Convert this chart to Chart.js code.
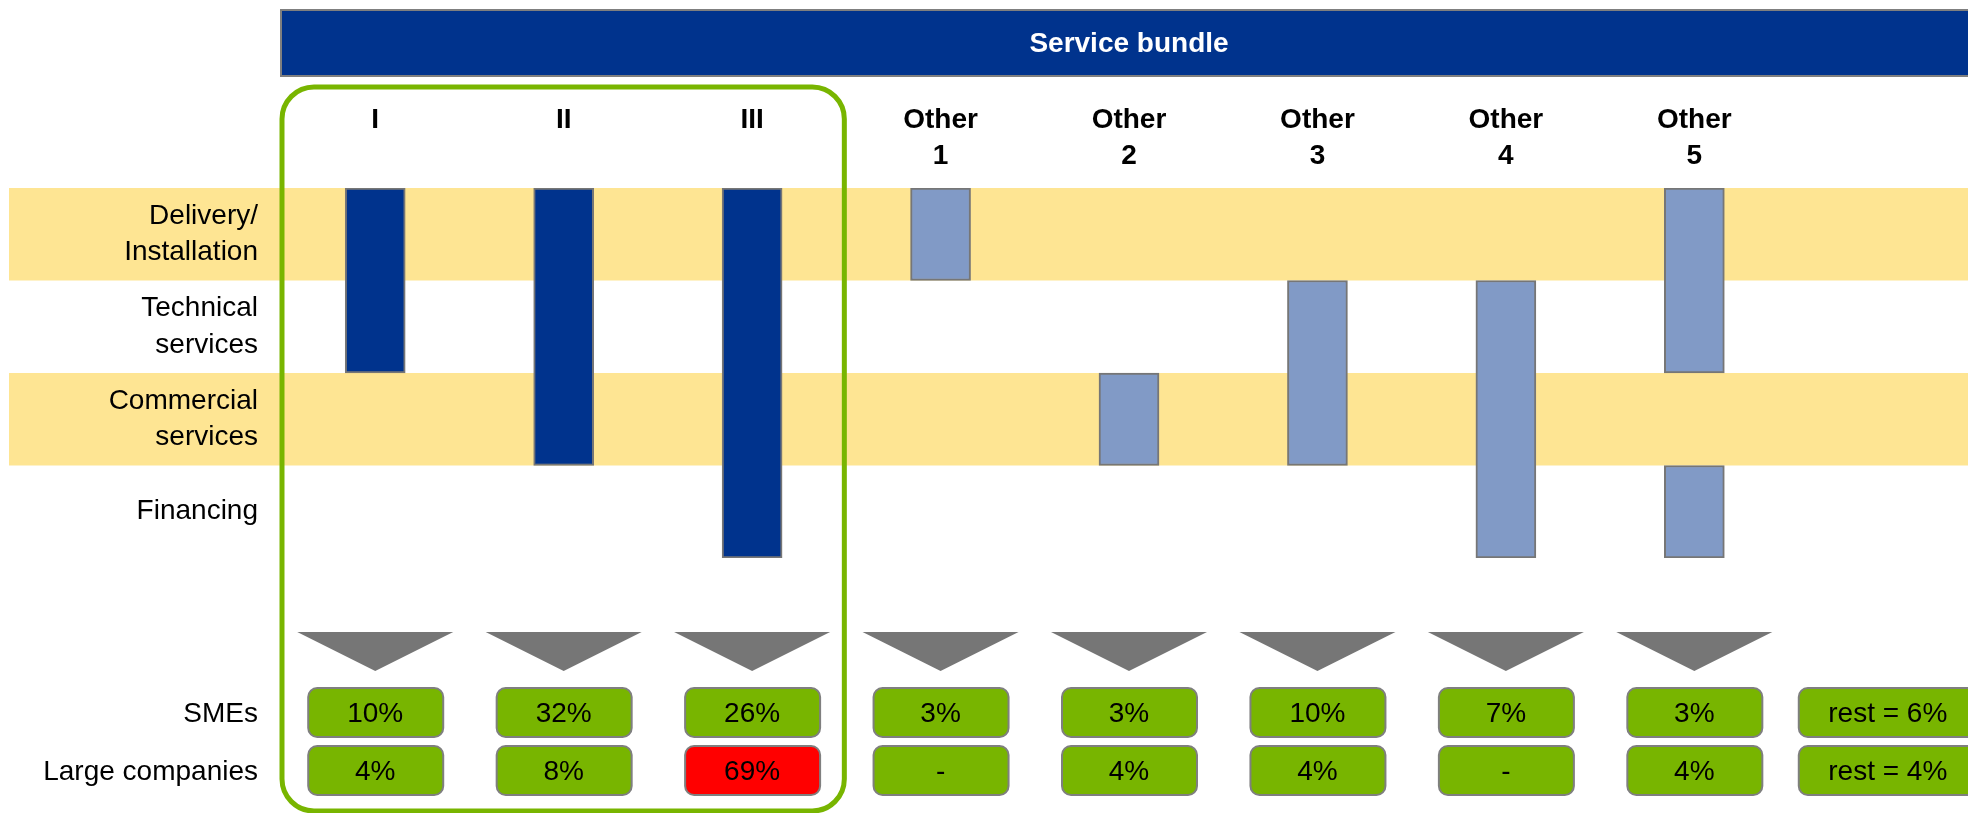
<!DOCTYPE html>
<html>
<head>
<meta charset="utf-8">
<title>Service bundle</title>
<script src="https://cdn.jsdelivr.net/npm/chart.js@4.4.1/dist/chart.umd.min.js"></script>
<style>
  html, body { margin: 0; padding: 0; background: #fff; overflow: hidden; }
  canvas { display: block; }
</style>
</head>
<body>
<canvas id="bundleChart" width="1977" height="813"></canvas>
<script>
// Service bundles (columns) and the service rows they can cover
const bundles = ['I', 'II', 'III', 'Other 1', 'Other 2', 'Other 3', 'Other 4', 'Other 5', 'rest'];
const serviceRows = [['Delivery/', 'Installation'], ['Technical', 'services'], ['Commercial', 'services'], ['Financing']];

// Row span covered by each bundle (0 = top of Delivery ... 4 = bottom of Financing)
const spanStart = [0, 0, 0, 0, 2, 1, 1, 0, null];
const spanEnd   = [2, 3, 4, 1, 3, 3, 4, 2, null];
// Other 5 has a second, separate block (Financing)
const extraStart = [null, null, null, null, null, null, null, 3, null];
const extraEnd   = [null, null, null, null, null, null, null, 4, null];

// Share of customers choosing each bundle, in % (null = none)
const segments   = ['SMEs', 'Large companies'];
const smeShare   = [10, 32, 26, 3, 3, 10, 7, 3, 6];
const largeShare = [4, 8, 69, null, 4, 4, null, 4, 4];

const focusCount = 3;       // bundles I-III are framed and dark
const highlightAbove = 50;  // shares above this are flagged red

const FONT = '"Liberation Sans", Arial, Helvetica, sans-serif';
const DARK_BLUE = '#00338D';
const LIGHT_BLUE = '#819AC6';
const YELLOW = '#FEE593';
const GREEN = '#78B500';
const GREY = '#767676';

// Helper to build a rounded rectangle path
function roundRectPath(ctx, x, y, w, h, r) {
    ctx.beginPath();
    ctx.moveTo(x + r, y);
    ctx.arcTo(x + w, y, x + w, y + h, r);
    ctx.arcTo(x + w, y + h, x, y + h, r);
    ctx.arcTo(x, y + h, x, y, r);
    ctx.arcTo(x, y, x + w, y, r);
    ctx.closePath();
}

function shareText(value, isRest) {
    if (value === null) return '-';
    return isRest ? `rest = ${value}%` : `${value}%`;
}

const layoutPlugin = {
    id: 'layoutPlugin',
    beforeDraw(chart) {
        // yellow bands behind every other service row
        const { ctx, width } = chart;
        const y = chart.scales.y;
        ctx.save();
        ctx.fillStyle = YELLOW;
        serviceRows.forEach((row, r) => {
            if (r % 2 !== 0) return;
            const top = y.getPixelForValue(r);
            const bottom = y.getPixelForValue(r + 1);
            ctx.fillRect(9, top, width - 9, bottom - top);
        });
        ctx.restore();
    },
    afterDraw(chart) {
        const { ctx, width, chartArea } = chart;
        const x = chart.scales.x;
        ctx.save();

        // Header bar
        ctx.fillStyle = DARK_BLUE;
        ctx.fillRect(chartArea.left, 10, width - chartArea.left + 5, 66);
        ctx.strokeStyle = '#7F7F7F';
        ctx.lineWidth = 2;
        ctx.strokeRect(chartArea.left, 10, width - chartArea.left + 5, 66);
        ctx.fillStyle = '#FFFFFF';
        ctx.font = `bold 28px ${FONT}`;
        ctx.textAlign = 'center';
        ctx.textBaseline = 'middle';
        ctx.fillText('Service bundle', (chartArea.left + width) / 2, 44);

        // Green frame round the focus bundles
        const frameRight = (x.getPixelForValue(focusCount - 1) + x.getPixelForValue(focusCount)) / 2 - 2;
        ctx.strokeStyle = GREEN;
        ctx.lineWidth = 5;
        roundRectPath(ctx, chartArea.left + 1, 87, frameRight - chartArea.left - 1, 724, 32);
        ctx.stroke();

        // Arrows and share boxes
        bundles.forEach((name, i) => {
            const cx = x.getPixelForValue(i);
            const isRest = name === 'rest';

            if (!isRest) {
                ctx.fillStyle = GREY;
                ctx.beginPath();
                ctx.moveTo(cx - 78, 632);
                ctx.lineTo(cx + 78, 632);
                ctx.lineTo(cx, 671);
                ctx.closePath();
                ctx.fill();
            }

            [smeShare[i], largeShare[i]].forEach((value, s) => {
                const top = s === 0 ? 688 : 746;
                const left = isRest ? cx - 84 : cx - 67;
                const w = isRest ? 200 : 135;
                roundRectPath(ctx, left, top, w, 49, 9);
                ctx.fillStyle = value !== null && value > highlightAbove ? '#FF0000' : GREEN;
                ctx.fill();
                ctx.strokeStyle = '#7F7F7F';
                ctx.lineWidth = 2;
                ctx.stroke();

                ctx.fillStyle = '#000000';
                ctx.font = `28px ${FONT}`;
                ctx.textAlign = 'center';
                ctx.textBaseline = 'middle';
                ctx.fillText(shareText(value, isRest), isRest ? left + 89 : cx, top + 26);
            });
        });

        // Segment labels
        ctx.fillStyle = '#000000';
        ctx.font = `28px ${FONT}`;
        ctx.textAlign = 'right';
        ctx.textBaseline = 'middle';
        segments.forEach((seg, s) => {
            ctx.fillText(seg, chartArea.left - 23, s === 0 ? 714 : 772);
        });

        ctx.restore();
    }
};

new Chart(document.getElementById('bundleChart'), {
    type: 'bar',
    data: {
        labels: bundles,
        datasets: [
            {
                label: 'Bundle',
                data: bundles.map((b, i) => spanStart[i] === null ? null : [spanStart[i], spanEnd[i]]),
                backgroundColor: bundles.map((b, i) => i < focusCount ? DARK_BLUE : LIGHT_BLUE)
            },
            {
                label: 'Bundle (second block)',
                data: bundles.map((b, i) => extraStart[i] === null ? null : [extraStart[i], extraEnd[i]]),
                backgroundColor: LIGHT_BLUE
            }
        ]
    },
    options: {
        responsive: false,
        animation: false,
        layout: { padding: { top: 0, right: 0, bottom: 255, left: 0 } },
        datasets: {
            bar: {
                barThickness: 60,
                grouped: false,
                borderWidth: 2,
                borderColor: GREY,
                borderSkipped: false
            }
        },
        plugins: {
            legend: { display: false },
            tooltip: { enabled: false }
        },
        scales: {
            x: {
                position: 'top',
                grid: { display: false, drawTicks: false },
                border: { display: false },
                ticks: {
                    autoSkip: false,
                    maxRotation: 0,
                    crossAlign: 'far',
                    padding: 14,
                    color: '#000000',
                    font: { family: FONT, size: 28, weight: 'bold', lineHeight: 1.27 },
                    callback: (value, index) => bundles[index] === 'rest' ? '' : bundles[index].split(' ')
                },
                afterFit: scale => { scale.height = 188; }
            },
            y: {
                reverse: true,
                min: 0,
                max: serviceRows.length,
                grid: { display: false, drawTicks: false },
                border: { display: false },
                afterBuildTicks: scale => {
                    scale.ticks = serviceRows.map((row, r) => ({ value: r + 0.5 }));
                },
                ticks: {
                    autoSkip: false,
                    padding: 23,
                    color: '#000000',
                    font: { family: FONT, size: 28, lineHeight: 1.3 },
                    callback: value => serviceRows[Math.floor(value)]
                },
                afterFit: scale => { scale.width = 281; }
            }
        }
    },
    plugins: [layoutPlugin]
});
</script>
</body>
</html>
